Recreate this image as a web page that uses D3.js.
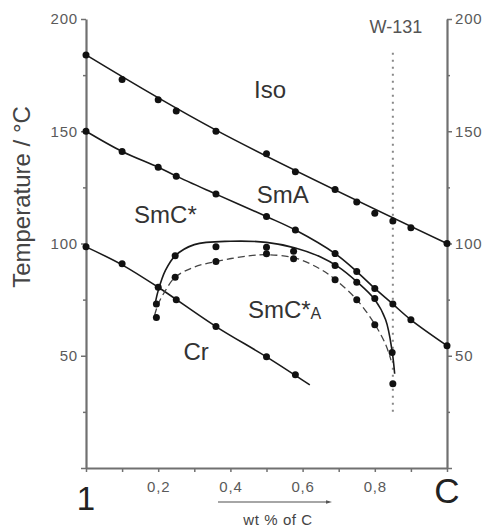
<!DOCTYPE html>
<html>
<head>
<meta charset="utf-8">
<script src="https://cdn.jsdelivr.net/npm/d3@7"></script>
<style>
  body { margin: 0; background: #fff; }
  svg { display: block; font-family: "Liberation Sans", Arial, sans-serif; }
</style>
</head>
<body>
<div id="chart"></div>
<script>
// Phase diagram data (x = wt fraction of C, T = temperature / °C)
const isoX = [0, 0.1, 0.2, 0.25, 0.36, 0.5, 0.58, 0.69, 0.75, 0.8, 0.85, 0.9, 1.0];
const isoT = [184, 173, 164, 159, 150, 140, 132, 124, 118.5, 113.5, 110, 107, 100];
const isoFitX = [0, 0.36, 1];
const isoFitT = [184, 150.5, 100];

const smaX = [0, 0.1, 0.2, 0.25, 0.36, 0.5, 0.58, 0.69, 0.75, 0.8, 0.85, 0.9, 1.0];
const smaT = [150, 141, 134, 130, 122, 112, 106, 95.5, 87.5, 80, 73, 66, 54.5];

const crX = [0, 0.1, 0.2, 0.25, 0.36, 0.5, 0.58];
const crT = [98.5, 91, 80.5, 75, 63, 49.5, 41.5];
const crFitX = [0, 0.1, 0.2, 0.36, 0.5, 0.62];
const crFitT = [98.5, 90.5, 80.5, 63, 49.5, 37];

// SmC*A upper (heating) boundary, solid
const upX = [0.195, 0.247, 0.36, 0.5, 0.575, 0.69, 0.75, 0.8, 0.848];
const upT = [73, 94.5, 98.5, 98.3, 96.6, 90.2, 82.7, 75.5, 51.5];
const upFitX = [0.19, 0.2, 0.22, 0.247, 0.3, 0.4, 0.5, 0.58, 0.65, 0.7, 0.75, 0.8, 0.83, 0.848, 0.855];
const upFitT = [72, 79, 88, 94.5, 99.5, 101, 100.5, 98, 94, 89.5, 83, 75, 66, 52, 42];

// SmC*A lower (cooling) boundary, dashed
const lowX = [0.195, 0.247, 0.36, 0.5, 0.575, 0.69, 0.75, 0.8, 0.85];
const lowT = [67, 85, 92, 95.4, 93.2, 83.8, 74.9, 63.8, 37.5];
const lowFitX = [0.19, 0.2, 0.22, 0.247, 0.3, 0.36, 0.45, 0.5, 0.58, 0.65, 0.69, 0.75, 0.8, 0.83, 0.845];
const lowFitT = [68, 73, 79, 85, 89.5, 92, 94.5, 95, 93.5, 88.5, 84, 75, 64, 55, 48];

const w131X = 0.85;
const w131T = [185, 23];

const yTicks = [0, 25, 50, 75, 100, 125, 150, 175, 200];
const yLabels = [50, 100, 150, 200];
const xTicks = [0, 0.1, 0.2, 0.3, 0.4, 0.5, 0.6, 0.7, 0.8, 0.9, 1.0];
const xLabels = [0.2, 0.4, 0.6, 0.8];

const phaseLabels = [
  {text: "Iso", x: 0.51, T: 165},
  {text: "SmA", x: 0.545, T: 118},
  {text: "SmC*", x: 0.22, T: 109},
  {text: "Cr", x: 0.305, T: 48}
];

// Canvas
const W = 488, H = 530;
const margin = {top: 19, bottom: 62, left: 86, right: 41};

const svg = d3.select("#chart").append("svg")
  .attr("width", W)
  .attr("height", H);

const xSc = d3.scaleLinear().domain([0, 1]).range([margin.left, W - margin.right]);
const ySc = d3.scaleLinear().domain([0, 200]).range([H - margin.bottom, margin.top]);

const axisCol = "#707070", labCol = "#5a5a5a";

// Axes
const fmtY = d => yLabels.includes(d) ? d : "";
const fmtX = d => xLabels.some(v => Math.abs(v - d) < 1e-9) ? d3.format(".1f")(d).replace(".", ",") : "";

const left = svg.append("g")
  .attr("transform", `translate(${margin.left},0)`)
  .call(d3.axisLeft(ySc).tickValues(yTicks).tickFormat(fmtY).tickSize(5).tickSizeOuter(0));
const right = svg.append("g")
  .attr("transform", `translate(${W - margin.right},0)`)
  .call(d3.axisRight(ySc).tickValues(yTicks).tickFormat(fmtY).tickSize(5).tickSizeOuter(0));
const bottom = svg.append("g")
  .attr("transform", `translate(0,${H - margin.bottom})`)
  .call(d3.axisBottom(xSc).tickValues(xTicks).tickFormat(fmtX).tickSize(4).tickSizeOuter(0));

[left, right, bottom].forEach(g => {
  g.select(".domain").attr("stroke", axisCol).attr("stroke-width", 2.2);
  g.selectAll(".tick line").attr("stroke", axisCol).attr("stroke-width", 1.5);
  g.selectAll(".tick text")
    .attr("fill", labCol)
    .attr("font-size", 15)
    .attr("letter-spacing", 0.8)
    .attr("font-family", "Liberation Sans, Arial, sans-serif");
});
// shorter minor ticks
left.selectAll(".tick line").attr("x2", d => yLabels.includes(d) || d === 0 ? -5 : -3);
right.selectAll(".tick line").attr("x2", d => yLabels.includes(d) || d === 0 ? 5 : 3);
bottom.selectAll(".tick text").attr("dy", "1.1em");

// Component labels at the x-axis ends
svg.append("text")
  .attr("x", xSc(0)).attr("y", 510)
  .attr("text-anchor", "middle")
  .attr("font-size", 33).attr("fill", "#222")
  .text("1");
svg.append("text")
  .attr("x", xSc(1)).attr("y", 503)
  .attr("text-anchor", "middle")
  .attr("font-size", 35).attr("fill", "#222")
  .text("C");

// Axis titles
svg.append("text")
  .attr("transform", "translate(30,197) rotate(-90)")
  .attr("text-anchor", "middle")
  .attr("font-size", 24).attr("fill", "#444")
  .text("Temperature / °C");

svg.append("defs").append("marker")
  .attr("id", "arr").attr("viewBox", "0 0 10 10")
  .attr("refX", 5).attr("refY", 5)
  .attr("markerWidth", 4).attr("markerHeight", 4)
  .attr("orient", "auto")
  .append("path").attr("d", "M0,2L10,5L0,8Z").attr("fill", "#555");
svg.append("line")
  .attr("x1", 218).attr("x2", 329).attr("y1", 502).attr("y2", 502)
  .attr("stroke", "#888").attr("stroke-width", 1.5)
  .attr("marker-end", "url(#arr)");
svg.append("text")
  .attr("x", 278).attr("y", 525)
  .attr("text-anchor", "middle")
  .attr("font-size", 15).attr("letter-spacing", 0.6).attr("fill", "#444")
  .text("wt % of C");

// Vertical W-131 marker
svg.append("line")
  .attr("x1", xSc(w131X)).attr("x2", xSc(w131X))
  .attr("y1", ySc(w131T[0])).attr("y2", ySc(w131T[1]))
  .attr("stroke", "#888").attr("stroke-width", 2)
  .attr("stroke-dasharray", "2,5");
svg.append("text")
  .attr("x", xSc(w131X) + 3).attr("y", 33)
  .attr("text-anchor", "middle")
  .attr("font-size", 18).attr("fill", "#555")
  .text("W-131");

// Lines
const zip = (xs, ts) => xs.map((x, i) => [x, ts[i]]);
const smooth = d3.line().x(d => xSc(d[0])).y(d => ySc(d[1])).curve(d3.curveCatmullRom.alpha(0.5));

const lines = svg.append("g").attr("fill", "none").attr("stroke", "#1a1a1a").attr("stroke-width", 1.6);
lines.append("path").attr("d", smooth(zip(isoFitX, isoFitT)));
lines.append("path").attr("d", smooth(zip(smaX, smaT)));
lines.append("path").attr("d", smooth(zip(crFitX, crFitT)));
lines.append("path").attr("d", smooth(zip(upFitX, upFitT)));
lines.append("path").attr("d", smooth(zip(lowFitX, lowFitT)))
  .attr("stroke", "#444").attr("stroke-width", 1.3).attr("stroke-dasharray", "7,4");

// Points
const dots = svg.append("g").attr("fill", "#111");
[[isoX, isoT], [smaX, smaT], [crX, crT], [upX, upT], [lowX, lowT]].forEach(([xs, ts]) => {
  dots.selectAll(null).data(zip(xs, ts)).enter().append("circle")
    .attr("cx", d => xSc(d[0])).attr("cy", d => ySc(d[1])).attr("r", 3.5);
});

// Phase labels
svg.append("g").selectAll("text").data(phaseLabels).enter().append("text")
  .attr("x", d => xSc(d.x)).attr("y", d => ySc(d.T))
  .attr("text-anchor", "middle")
  .attr("font-size", 24).attr("fill", "#333")
  .text(d => d.text);

const sca = svg.append("text")
  .attr("x", xSc(0.55)).attr("y", ySc(67))
  .attr("text-anchor", "middle")
  .attr("font-size", 24).attr("fill", "#333");
sca.append("tspan").text("SmC*");
sca.append("tspan").attr("font-size", 16).attr("dy", 1).text("A");
</script>
</body>
</html>
